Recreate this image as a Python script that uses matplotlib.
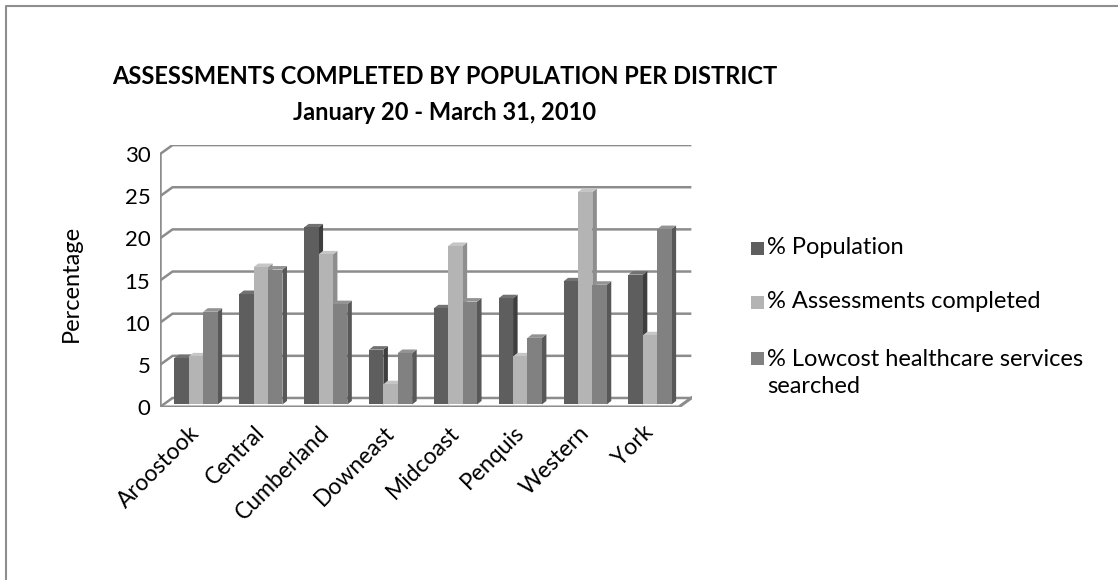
import matplotlib.pyplot as plt
import matplotlib.patches as mpatches
from matplotlib.lines import Line2D

plt.rcParams['font.family'] = ['Lato', 'DejaVu Sans']

# share of each district, in percent
districts = ["Aroostook", "Central", "Cumberland", "Downeast",
             "Midcoast", "Penquis", "Western", "York"]
pct_population = [5.5, 13.1, 21.0, 6.5, 11.4, 12.6, 14.6, 15.4]
pct_assessments = [5.7, 16.3, 17.8, 2.4, 18.8, 5.7, 25.2, 8.2]
pct_lowcost = [11.0, 16.0, 11.9, 6.1, 12.2, 7.9, 14.2, 20.8]
series_labels = ["% Population", "% Assessments completed",
                 "% Lowcost healthcare services\nsearched"]
y_ticks = [0, 5, 10, 15, 20, 25, 30]

# front / side / top shades for the three series
front_colors = ["#5e5e5e", "#b4b4b4", "#818181"]
side_colors = ["#3e3e3e", "#8e8e8e", "#585858"]
top_colors = ["#727272", "#c6c6c6", "#939393"]
grid_color = "#8c8c8c"

# fake 3d: depth of the walls and of the bars, in data units
wall_dx, wall_dy = 0.193, 1.07
bar_dx, bar_dy = 0.07, 0.42
base_dx, base_dy = 0.055, 0.3
bar_w = 0.222

fig = plt.figure(figsize=(11.18, 5.8), dpi=100)
ax = fig.add_axes([160 / 1118, 173 / 580, 532 / 1118, 262 / 580])
ax.set_xlim(-0.5, 7.5 + wall_dx + 0.01)
ax.set_ylim(0, 31.08)
ax.set_facecolor("none")
for s in ax.spines.values():
    s.set_visible(False)

# back wall gridlines with the slanted side-wall part
for v in y_ticks:
    ax.plot([-0.5, -0.5 + wall_dx, 7.5 + wall_dx], [v, v + wall_dy, v + wall_dy],
            color=grid_color, lw=1.8, zorder=1, solid_capstyle="butt")
ax.plot([-0.5, -0.5], [0, 30], color=grid_color, lw=1.8, zorder=1)
# floor
ax.fill([-0.5, 7.5, 7.5 + wall_dx, -0.5 + wall_dx], [0, 0, wall_dy, wall_dy],
        color="white", zorder=0.5)
ax.plot([-0.5, 7.5, 7.5 + wall_dx], [0, 0, wall_dy], color=grid_color, lw=2.2,
        zorder=1)

series = [pct_population, pct_assessments, pct_lowcost]
for k, vals in enumerate(series):
    xs = [i + base_dx + (k - 1) * bar_w for i in range(len(districts))]
    ax.bar(xs, vals, width=bar_w, bottom=base_dy, color=front_colors[k],
           edgecolor="none", zorder=3 + 2 * k)
    for x, v in zip(xs, vals):
        left, right = x - bar_w / 2, x + bar_w / 2
        top = base_dy + v
        side = [(right, base_dy), (right + bar_dx, base_dy + bar_dy),
                (right + bar_dx, top + bar_dy), (right, top)]
        lid = [(left, top), (left + bar_dx, top + bar_dy),
               (right + bar_dx, top + bar_dy), (right, top)]
        ax.add_patch(mpatches.Polygon(side, closed=True, color=side_colors[k],
                                      lw=0, zorder=2 + 2 * k))
        ax.add_patch(mpatches.Polygon(lid, closed=True, color=top_colors[k],
                                      lw=0, zorder=2 + 2 * k))

ax.set_yticks(y_ticks)
ax.set_yticklabels([str(t) for t in y_ticks], fontsize=16)
ax.tick_params(axis="y", length=0, pad=7)
ax.set_xticks([i + 0.06 for i in range(len(districts))])
ax.set_xticklabels(districts, fontsize=16.5, rotation=45, ha="right",
                   va="center", rotation_mode="anchor")
ax.tick_params(axis="x", length=0, pad=16)
ax.set_ylabel("Percentage", fontsize=17)
ax.yaxis.set_label_coords(-0.147, 0.473)

# titles
fig.text(445 / 1118, 1 - 77 / 580, "ASSESSMENTS COMPLETED BY POPULATION PER DISTRICT",
         ha="center", va="center", fontsize=17, fontweight="bold")
fig.text(445 / 1118, 1 - 113 / 580, "January 20 - March 31, 2010",
         ha="center", va="center", fontsize=17, fontweight="bold")

# legend
legend_y = [248, 302, 358]
for k, (lab, y) in enumerate(zip(series_labels, legend_y)):
    fig.patches.append(mpatches.Rectangle(
        (751 / 1118, 1 - (y + 6.5) / 580), 13 / 1118, 13 / 580,
        transform=fig.transFigure, color=front_colors[k], lw=0))
    n_lines = lab.count("\n")
    fig.text(767 / 1118, 1 - (y + 15 * n_lines) / 580, lab, ha="left",
             va="center", fontsize=17, linespacing=1.3)

# chart area border (left and top edges)
fig.add_artist(Line2D([6 / 1118, 6 / 1118, 1.0], [0.0, 1 - 6 / 580, 1 - 6 / 580],
                      transform=fig.transFigure, color="#8e8e8e", lw=1.5))

fig.savefig("out.png", dpi=100, facecolor="white")
